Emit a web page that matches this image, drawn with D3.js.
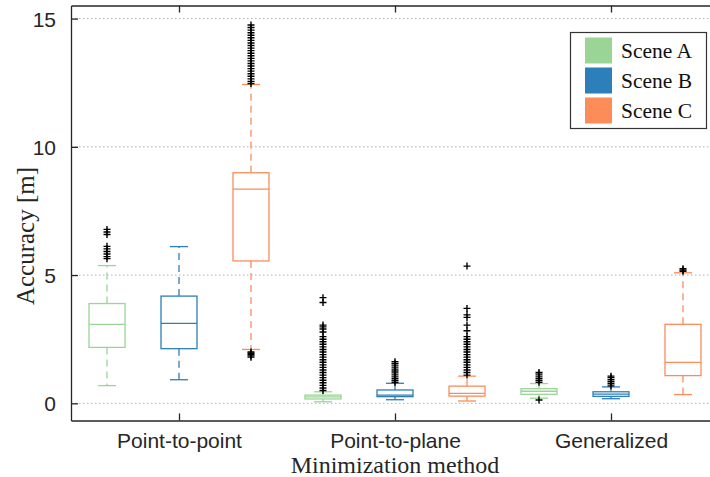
<!DOCTYPE html>
<html>
<head>
<meta charset="utf-8">
<script src="https://cdn.jsdelivr.net/npm/d3@7"></script>
<style>
  body { margin: 0; background: #fff; }
  svg { display: block; }
</style>
</head>
<body>
<div id="chart"></div>
<script>
// data, indexed [method][scene]
var methods = ["Point-to-point", "Point-to-plane", "Generalized"];
var scenes = ["Scene A", "Scene B", "Scene C"];
var sceneColors = ["#9ad597", "#2c7fb8", "#fc8d59"];
var yTicks = [0, 5, 10, 15];

var whiskerLo = [[0.69, 0.92, 2.10], [0.06, 0.14, 0.09], [0.20, 0.18, 0.34]];
var q1 =        [[2.18, 2.13, 5.55], [0.17, 0.26, 0.28], [0.35, 0.27, 1.08]];
var med =       [[3.08, 3.12, 8.35], [0.25, 0.32, 0.39], [0.47, 0.36, 1.60]];
var q3 =        [[3.89, 4.18, 8.99], [0.32, 0.52, 0.67], [0.57, 0.45, 3.08]];
var whiskerHi = [[5.37, 6.11, 12.43], [0.45, 0.78, 1.06], [0.77, 0.64, 5.09]];

var outliers = [
  [
    [6.78, 6.68, 6.58, 6.12, 6.02, 5.92, 5.82, 5.72, 5.64],
    [],
    [14.75, 14.65, 14.55, 14.45, 14.35, 14.25, 14.15, 14.05, 13.95, 13.85, 13.75, 13.65,
     13.55, 13.45, 13.35, 13.25, 13.15, 13.05, 12.95, 12.85, 12.75, 12.65, 12.55, 12.47,
     2.0, 1.95, 1.9, 1.85, 1.8]
  ],
  [
    [4.12, 3.93, 3.05, 2.98, 2.9, 2.78, 2.6, 2.5, 2.4, 2.3, 2.2, 2.1, 2.0, 1.9, 1.8, 1.7,
     1.6, 1.5, 1.4, 1.3, 1.2, 1.1, 1.0, 0.9, 0.8, 0.7, 0.6, 0.5],
    [1.62, 1.54, 1.46, 1.38, 1.3, 1.22, 1.14, 1.06, 0.98, 0.9, 0.82],
    [5.35, 3.7, 3.45, 3.35, 3.05, 2.83, 2.6, 2.5, 2.4, 2.3, 2.2, 2.1, 2.0, 1.9, 1.8, 1.7,
     1.6, 1.5, 1.4, 1.3, 1.2, 1.1]
  ],
  [
    [1.2, 1.14, 1.06, 0.98, 0.9, 0.82, 0.13],
    [1.06, 1.0, 0.92, 0.84, 0.76, 0.68],
    [5.25, 5.2, 5.15]
  ]
];

var svgWidth = 710, svgHeight = 477;
var plotLeft = 71, plotTop = 5.5, plotBottom = 420.5, plotRight = 719;

var svg = d3.select("#chart").append("svg")
  .attr("width", svgWidth)
  .attr("height", svgHeight);

var x = d3.scaleLinear().domain([0.5, 9.5]).range([plotLeft, plotRight]);
var y = d3.scaleLinear().domain([-0.67, 15.51]).range([plotBottom, plotTop]);

function pos(m, s) { return m * 3 + s + 1; }

// grid
svg.append("g").selectAll("line")
  .data(yTicks)
  .join("line")
  .attr("x1", plotLeft).attr("x2", plotRight)
  .attr("y1", d => y(d)).attr("y2", d => y(d))
  .attr("stroke", "#b0b0b0")
  .attr("stroke-width", 1)
  .attr("stroke-dasharray", "1.5,2.5");

// boxes
var boxW = 36, capW = 18;
methods.forEach(function(m, mi) {
  scenes.forEach(function(s, si) {
    var cx = x(pos(mi, si));
    var col = sceneColors[si];
    var g = svg.append("g");
    // whiskers
    g.append("line")
      .attr("x1", cx).attr("x2", cx)
      .attr("y1", y(q3[mi][si])).attr("y2", y(whiskerHi[mi][si]))
      .attr("stroke", col).attr("stroke-width", 1.3)
      .attr("stroke-dasharray", "7,5");
    g.append("line")
      .attr("x1", cx).attr("x2", cx)
      .attr("y1", y(q1[mi][si])).attr("y2", y(whiskerLo[mi][si]))
      .attr("stroke", col).attr("stroke-width", 1.3)
      .attr("stroke-dasharray", "7,5");
    [whiskerHi[mi][si], whiskerLo[mi][si]].forEach(function(v) {
      g.append("line")
        .attr("x1", cx - capW / 2).attr("x2", cx + capW / 2)
        .attr("y1", y(v)).attr("y2", y(v))
        .attr("stroke", col).attr("stroke-width", 1.3);
    });
    g.append("rect")
      .attr("x", cx - boxW / 2).attr("width", boxW)
      .attr("y", y(q3[mi][si]))
      .attr("height", y(q1[mi][si]) - y(q3[mi][si]))
      .attr("fill", "none").attr("stroke", col).attr("stroke-width", 1.3);
    g.append("line")
      .attr("x1", cx - boxW / 2).attr("x2", cx + boxW / 2)
      .attr("y1", y(med[mi][si])).attr("y2", y(med[mi][si]))
      .attr("stroke", col).attr("stroke-width", 1.3);
    // outliers as + markers
    g.selectAll("path.out")
      .data(outliers[mi][si])
      .join("path")
      .attr("class", "out")
      .attr("d", d => "M" + (cx - 3.5) + "," + y(d) + "h7M" + cx + "," + (y(d) - 3.5) + "v7")
      .attr("stroke", "#000").attr("stroke-width", 1.4).attr("fill", "none");
  });
});

// axes
var axisColor = "#262626";
var catTicks = methods.map((m, i) => pos(i, 1));

var xAxis = svg.append("g")
  .attr("transform", "translate(0," + plotBottom + ")")
  .call(d3.axisBottom(x).tickValues(catTicks)
    .tickFormat((d, i) => methods[i])
    .tickSizeInner(-7).tickSizeOuter(0).tickPadding(13));

var xTop = svg.append("g")
  .attr("transform", "translate(0," + plotTop + ")")
  .call(d3.axisTop(x).tickValues(catTicks).tickFormat("")
    .tickSizeInner(-7).tickSizeOuter(0));

var yAxis = svg.append("g")
  .attr("transform", "translate(" + plotLeft + ",0)")
  .call(d3.axisLeft(y).tickValues(yTicks)
    .tickSizeInner(-7).tickSizeOuter(0).tickPadding(15));

[xAxis, xTop, yAxis].forEach(function(a) {
  a.select(".domain").attr("stroke", axisColor).attr("stroke-width", 1.3);
  a.selectAll(".tick line").attr("stroke", axisColor).attr("stroke-width", 1.3);
  a.selectAll("text")
    .attr("fill", axisColor)
    .style("font-family", "'Liberation Sans', Arial, sans-serif")
    .style("font-size", "21px");
});
yAxis.selectAll("text").attr("dy", "0.36em");

// axis labels
svg.append("text")
  .attr("x", 395)
  .attr("y", 473)
  .attr("text-anchor", "middle")
  .style("font-family", "'Liberation Serif', 'Times New Roman', serif")
  .style("font-size", "24px")
  .attr("fill", axisColor)
  .text("Minimization method");

svg.append("text")
  .attr("transform", "translate(34,236) rotate(-90)")
  .attr("text-anchor", "middle")
  .style("font-family", "'Liberation Serif', 'Times New Roman', serif")
  .style("font-size", "25px")
  .attr("fill", axisColor)
  .text("Accuracy [m]");

// legend
var legend = svg.append("g");
legend.append("rect")
  .attr("x", 570.5).attr("y", 32.5)
  .attr("width", 136).attr("height", 96)
  .attr("fill", "#fff").attr("stroke", "#333").attr("stroke-width", 1.2);
scenes.forEach(function(s, i) {
  legend.append("rect")
    .attr("x", 585).attr("y", 37.5 + i * 30)
    .attr("width", 27).attr("height", 26)
    .attr("fill", sceneColors[i]);
  legend.append("text")
    .attr("x", 621).attr("y", 57.5 + i * 30)
    .style("font-family", "'Liberation Serif', 'Times New Roman', serif")
    .style("font-size", "21.5px")
    .attr("fill", "#111")
    .text(s);
});
</script>
</body>
</html>
